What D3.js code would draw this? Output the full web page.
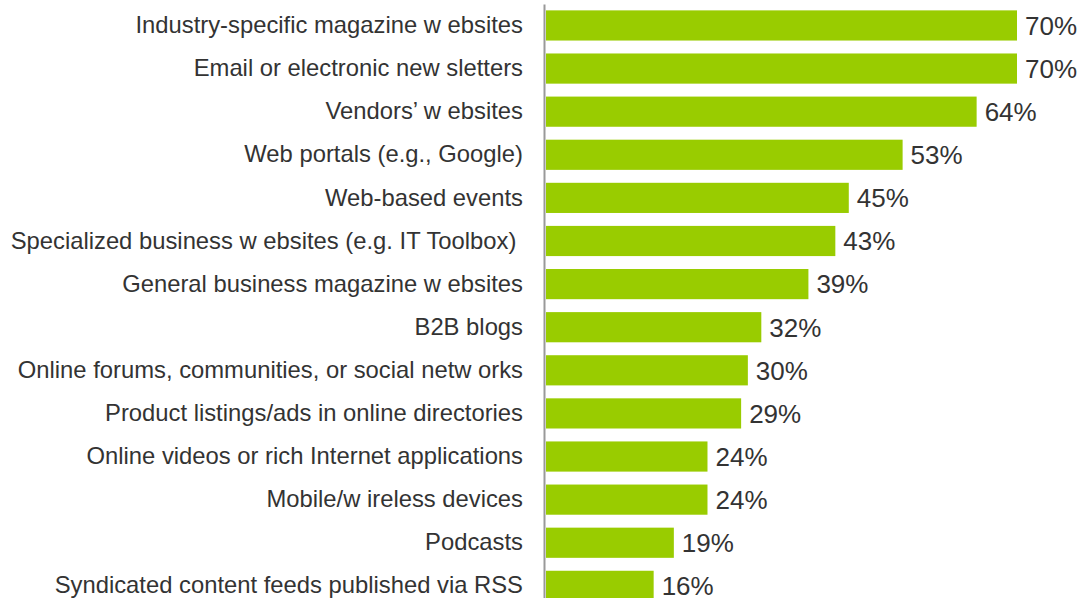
<!DOCTYPE html>
<html>
<head>
<meta charset="utf-8">
<script src="https://cdn.jsdelivr.net/npm/d3@7"></script>
<style>
    body { margin: 0; background: #fff; }
    svg text { font-family: "Liberation Sans", Arial, sans-serif; fill: #333; }
</style>
</head>
<body>
<div id="chart"></div>
<script>
const categories = [
    'Industry-specific magazine w ebsites',
    'Email or electronic new sletters',
    'Vendors\u2019 w ebsites',
    'Web portals (e.g., Google)',
    'Web-based events',
    'Specialized business w ebsites (e.g. IT Toolbox) ',
    'General business magazine w ebsites',
    'B2B blogs',
    'Online forums, communities, or social netw orks',
    'Product listings/ads in online directories',
    'Online videos or rich Internet applications',
    'Mobile/w ireless devices',
    'Podcasts',
    'Syndicated content feeds published via RSS'
];
const values = [70, 70, 64, 53, 45, 43, 39, 32, 30, 29, 24, 24, 19, 16];

const width = 1085;
const height = 598;
const axisX = 544;

const svg = d3.select('#chart').append('svg')
    .attr('width', width)
    .attr('height', height);

const x = d3.scaleLinear()
    .domain([0, 70])
    .range([axisX + 2, 1017]);

const y = d3.scaleBand()
    .domain(categories)
    .range([3.9, 607.4])
    .paddingInner(0.3)
    .paddingOuter(0.15);

svg.append('g')
    .selectAll('rect')
    .data(values)
    .enter()
    .append('rect')
        .attr('x', x(0))
        .attr('y', (d, i) => y(categories[i]))
        .attr('width', d => x(d) - x(0))
        .attr('height', y.bandwidth())
        .attr('fill', '#99cc00');

svg.append('g')
    .selectAll('text')
    .data(values)
    .enter()
    .append('text')
        .attr('x', d => x(d) + 8)
        .attr('y', (d, i) => y(categories[i]) + y.bandwidth() / 2)
        .attr('dy', '0.36em')
        .style('font-size', '26px')
        .text(d => d + '%');

const axis = svg.append('g')
    .attr('transform', `translate(${axisX},0)`)
    .call(d3.axisLeft(y).tickSize(0).tickPadding(21));

axis.select('.domain')
    .attr('stroke', '#999')
    .attr('stroke-width', 2);
axis.selectAll('text')
    .style('font-size', '23.8px')
    .style('white-space', 'pre')
    .attr('fill', '#333');
</script>
</body>
</html>
